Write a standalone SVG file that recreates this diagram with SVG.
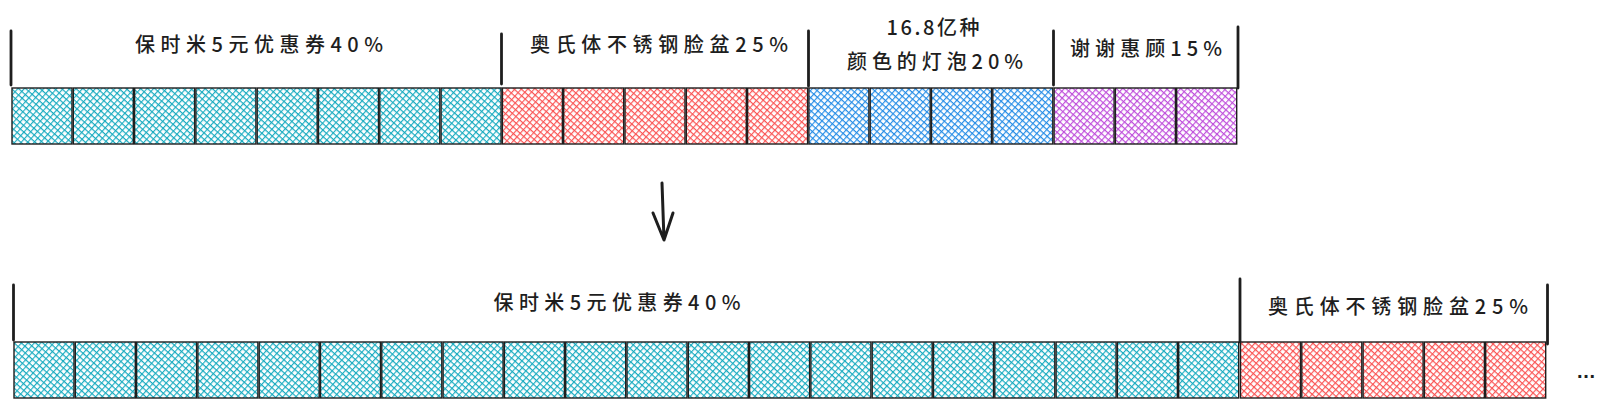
<svg xmlns="http://www.w3.org/2000/svg" width="1608" height="409" viewBox="0 0 1608 409">
<style>
.sq{stroke:#1e1e1e;stroke-width:1.4}
.teal{fill:url(#hTeal)}
.red{fill:url(#hRed)}
.blue{fill:url(#hBlue)}
.purple{fill:url(#hPurple)}
.bar{stroke:#1e1e1e;stroke-width:2.8;stroke-linecap:round;fill:none}
.lbl{font-family:"Noto Sans CJK SC","Liberation Sans",sans-serif;font-size:20px;font-weight:500;fill:#1e1e1e;text-anchor:middle}
.arrow{stroke:#1e1e1e;stroke-width:3;stroke-linecap:round;stroke-linejoin:round;fill:none}
</style>
<defs>
<pattern id="hTeal" patternUnits="userSpaceOnUse" width="4.8" height="4.8" patternTransform="rotate(42)"><rect width="4.8" height="4.8" fill="#fff"/><path d="M0 0.6H4.8M0.6 0V4.8" stroke="#15aabf" stroke-width="1.1"/></pattern>
<pattern id="hRed" patternUnits="userSpaceOnUse" width="4.8" height="4.8" patternTransform="rotate(42)"><rect width="4.8" height="4.8" fill="#fff"/><path d="M0 0.6H4.8M0.6 0V4.8" stroke="#fa5252" stroke-width="1.1"/></pattern>
<pattern id="hBlue" patternUnits="userSpaceOnUse" width="4.8" height="4.8" patternTransform="rotate(42)"><rect width="4.8" height="4.8" fill="#fff"/><path d="M0 0.6H4.8M0.6 0V4.8" stroke="#228be6" stroke-width="1.1"/></pattern>
<pattern id="hPurple" patternUnits="userSpaceOnUse" width="4.8" height="4.8" patternTransform="rotate(42)"><rect width="4.8" height="4.8" fill="#fff"/><path d="M0 0.6H4.8M0.6 0V4.8" stroke="#be4bdb" stroke-width="1.1"/></pattern>
</defs>
<rect width="1608" height="409" fill="#fff"/>

<g id="top-coupon">
<path class="bar" d="M11 31V85"/>
<text class="lbl" x="259" y="52" textLength="248">保时米5元优惠券40%</text>
<rect class="sq teal" x="12" y="88" width="60" height="56"/>
<rect class="sq teal" x="73.3" y="88" width="60" height="56"/>
<rect class="sq teal" x="134.6" y="88" width="60" height="56"/>
<rect class="sq teal" x="195.9" y="88" width="60" height="56"/>
<rect class="sq teal" x="257.2" y="88" width="60" height="56"/>
<rect class="sq teal" x="318.5" y="88" width="60" height="56"/>
<rect class="sq teal" x="379.8" y="88" width="60" height="56"/>
<rect class="sq teal" x="441.1" y="88" width="60" height="56"/>
</g>
<g id="top-basin">
<path class="bar" d="M501.5 34V84"/>
<text class="lbl" x="659" y="52" textLength="258">奥氏体不锈钢脸盆25%</text>
<rect class="sq red" x="502.4" y="88" width="60" height="56"/>
<rect class="sq red" x="563.7" y="88" width="60" height="56"/>
<rect class="sq red" x="625" y="88" width="60" height="56"/>
<rect class="sq red" x="686.3" y="88" width="60" height="56"/>
<rect class="sq red" x="747.6" y="88" width="60" height="56"/>
</g>
<g id="top-bulb">
<path class="bar" d="M808.5 31V86"/>
<text class="lbl" x="933" y="35" textLength="93">16.8亿种</text>
<text class="lbl" x="935" y="69" textLength="176">颜色的灯泡20%</text>
<rect class="sq blue" x="808.9" y="88" width="60" height="56"/>
<rect class="sq blue" x="870.2" y="88" width="60" height="56"/>
<rect class="sq blue" x="931.5" y="88" width="60" height="56"/>
<rect class="sq blue" x="992.8" y="88" width="60" height="56"/>
</g>
<g id="top-thanks">
<path class="bar" d="M1053.5 31V85"/>
<path class="bar" d="M1238 27V88"/>
<text class="lbl" x="1146" y="56" textLength="152">谢谢惠顾15%</text>
<rect class="sq purple" x="1054.1" y="88" width="60" height="56"/>
<rect class="sq purple" x="1115.4" y="88" width="60" height="56"/>
<rect class="sq purple" x="1176.7" y="88" width="60" height="56"/>
</g>

<g id="connectors">
<path class="arrow" d="M662 183L664 240M653 213L664 240L673 213"/>
</g>

<g id="bottom-coupon">
<path class="bar" d="M13.5 285V340"/>
<text class="lbl" x="617" y="310" textLength="247">保时米5元优惠券40%</text>
<rect class="sq teal" x="14" y="342" width="60" height="56"/>
<rect class="sq teal" x="75.3" y="342" width="60" height="56"/>
<rect class="sq teal" x="136.6" y="342" width="60" height="56"/>
<rect class="sq teal" x="197.9" y="342" width="60" height="56"/>
<rect class="sq teal" x="259.2" y="342" width="60" height="56"/>
<rect class="sq teal" x="320.5" y="342" width="60" height="56"/>
<rect class="sq teal" x="381.8" y="342" width="60" height="56"/>
<rect class="sq teal" x="443.1" y="342" width="60" height="56"/>
<rect class="sq teal" x="504.4" y="342" width="60" height="56"/>
<rect class="sq teal" x="565.7" y="342" width="60" height="56"/>
<rect class="sq teal" x="627" y="342" width="60" height="56"/>
<rect class="sq teal" x="688.3" y="342" width="60" height="56"/>
<rect class="sq teal" x="749.6" y="342" width="60" height="56"/>
<rect class="sq teal" x="810.9" y="342" width="60" height="56"/>
<rect class="sq teal" x="872.2" y="342" width="60" height="56"/>
<rect class="sq teal" x="933.5" y="342" width="60" height="56"/>
<rect class="sq teal" x="994.8" y="342" width="60" height="56"/>
<rect class="sq teal" x="1056.1" y="342" width="60" height="56"/>
<rect class="sq teal" x="1117.4" y="342" width="60" height="56"/>
<rect class="sq teal" x="1178.7" y="342" width="60" height="56"/>
</g>
<g id="bottom-basin">
<path class="bar" d="M1240 279V342"/>
<path class="bar" d="M1547.5 285V344"/>
<text class="lbl" x="1398" y="314" textLength="260">奥氏体不锈钢脸盆25%</text>
<rect class="sq red" x="1240.5" y="342" width="60" height="56"/>
<rect class="sq red" x="1301.8" y="342" width="60" height="56"/>
<rect class="sq red" x="1363.1" y="342" width="60" height="56"/>
<rect class="sq red" x="1424.4" y="342" width="60" height="56"/>
<rect class="sq red" x="1485.7" y="342" width="60" height="56"/>
</g>
<g id="ellipsis">
<text class="lbl" x="1586" y="378" textLength="18" style="font-family:'Liberation Sans',sans-serif;font-weight:bold">...</text>
</g>
</svg>
